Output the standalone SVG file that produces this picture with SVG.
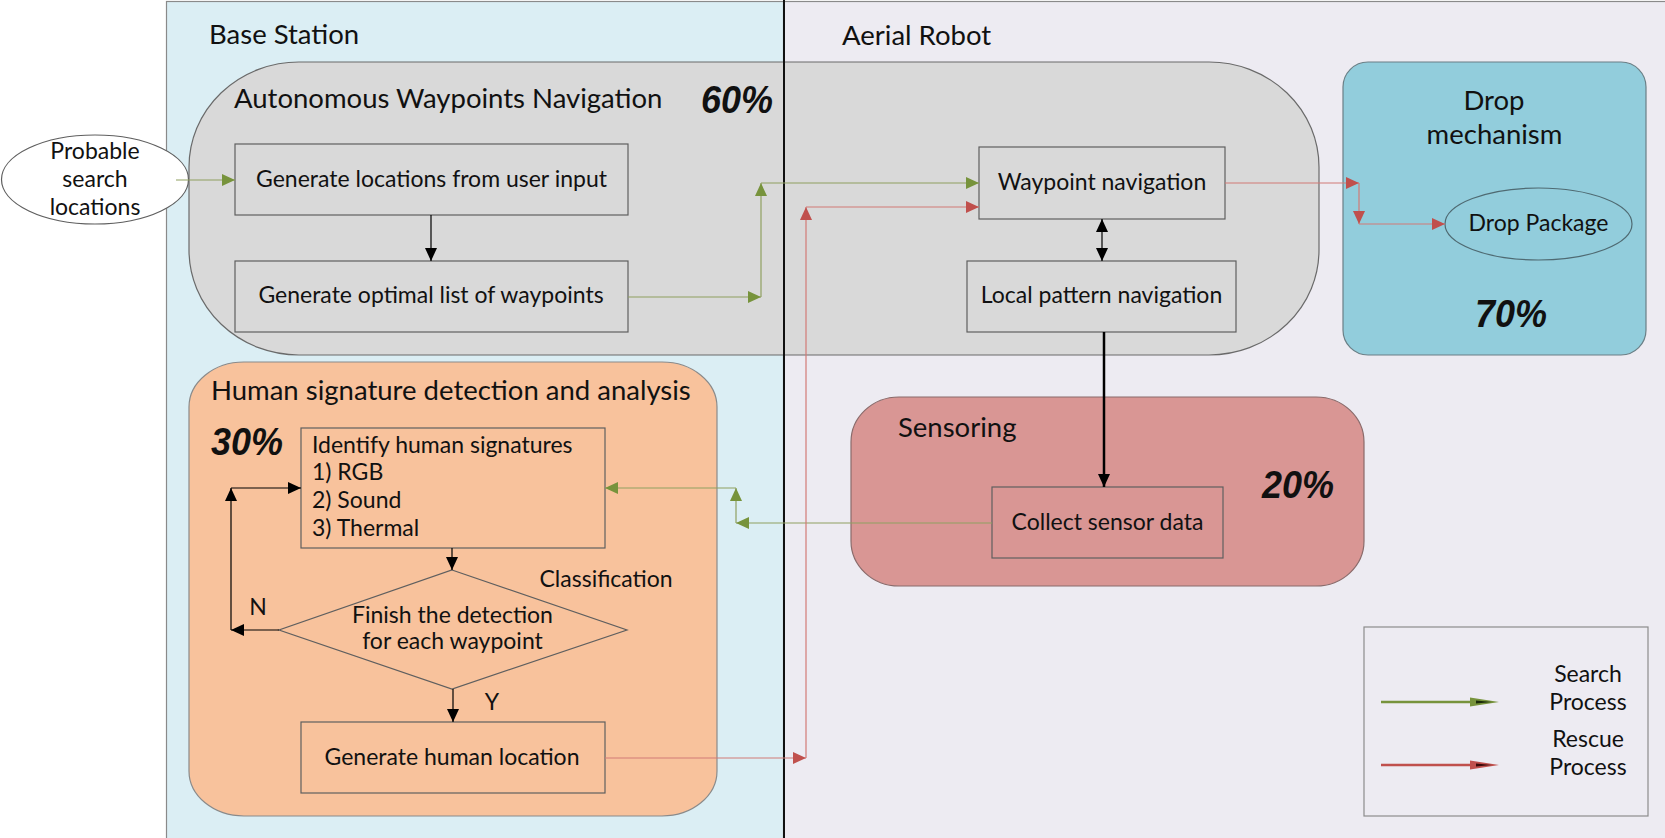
<svg xmlns="http://www.w3.org/2000/svg" width="1665" height="838" viewBox="0 0 1665 838">
<defs>
<style>
text{font-family:Lato,"Open Sans","Liberation Sans",sans-serif;fill:#111;}
.t{font-size:27.5px;}
.b{font-size:23px;}
.m{text-anchor:middle;}
.pct{font-family:"Liberation Sans",Arial,sans-serif;font-weight:bold;font-style:italic;font-size:38px;}
.box{fill:none;stroke:#5f5f5f;stroke-width:1.2;}
.k{stroke:#000;stroke-width:1.2;fill:none;marker-end:url(#ak);}
.kt{stroke:#000;stroke-width:2.5;fill:none;marker-end:url(#ak);}
.g{stroke:#8fa060;stroke-width:1.2;fill:none;marker-end:url(#ag);}
.r{stroke:#d27a76;stroke-width:1.2;fill:none;marker-end:url(#ar);}
</style>
<marker id="ak" markerUnits="userSpaceOnUse" markerWidth="13" markerHeight="12" refX="13" refY="6" orient="auto"><path d="M0,0 L13,6 L0,12 z" fill="#000"/></marker>
<marker id="aks" markerUnits="userSpaceOnUse" markerWidth="13" markerHeight="12" refX="13" refY="6" orient="auto-start-reverse"><path d="M0,0 L13,6 L0,12 z" fill="#000"/></marker>
<marker id="ag" markerUnits="userSpaceOnUse" markerWidth="13" markerHeight="12" refX="13" refY="6" orient="auto"><path d="M0,0 L13,6 L0,12 z" fill="#77933C"/></marker>
<marker id="ar" markerUnits="userSpaceOnUse" markerWidth="13" markerHeight="12" refX="13" refY="6" orient="auto"><path d="M0,0 L13,6 L0,12 z" fill="#C0504D"/></marker>
</defs>
<rect x="0" y="0" width="1665" height="838" fill="#ffffff"/>
<g id="panel-base">
<rect x="166.5" y="1.5" width="617" height="840" fill="#DBEEF4" stroke="#8a8a8a" stroke-width="1.2"/>
<text class="t" x="209" y="44">Base Station</text>
</g>
<g id="panel-aerial">
<rect x="784" y="1.5" width="885" height="840" fill="#EDEBF2" stroke="#8a8a8a" stroke-width="1.2"/>
<text class="t" x="842" y="45">Aerial Robot</text>
</g>
<g id="nav-group">
<rect x="189" y="62" width="1130" height="293" rx="110" ry="105" fill="#D9D9D9" stroke="#6a6a6a" stroke-width="1.2"/>
<text class="t" x="234" y="108">Autonomous Waypoints Navigation</text>
<text class="pct" x="701" y="113" textLength="72" lengthAdjust="spacingAndGlyphs">60%</text>
</g>
<g id="human-group">
<rect x="189" y="362" width="528" height="454" rx="55" ry="45" fill="#F8C29C" stroke="#8a8a8a" stroke-width="1.2"/>
<text class="t" x="211" y="400">Human signature detection and analysis</text>
<text class="pct" x="211" y="455" textLength="72" lengthAdjust="spacingAndGlyphs">30%</text>
</g>
<g id="sensoring-group">
<rect x="851" y="397" width="513" height="189" rx="48" ry="45" fill="#D99694" stroke="#8a6a6a" stroke-width="1.2"/>
<text class="t" x="898" y="437">Sensoring</text>
<text class="pct" x="1262" y="498" textLength="72" lengthAdjust="spacingAndGlyphs">20%</text>
</g>
<g id="drop-group">
<rect x="1343" y="62" width="303" height="293" rx="25" ry="25" fill="#92CDDC" stroke="#6a7f86" stroke-width="1.2"/>
<text class="t m" x="1494" y="110">Drop</text>
<text class="t m" x="1494.5" y="144">mechanism</text>
<text class="pct" x="1475" y="327" textLength="72" lengthAdjust="spacingAndGlyphs">70%</text>
</g>
<g id="divider">
<line x1="784" y1="0" x2="784" y2="838" stroke="#111" stroke-width="2"/>
</g>
<g id="probable">
<ellipse cx="95" cy="179.5" rx="93.5" ry="44.5" fill="#ffffff" stroke="#5f5f5f" stroke-width="1.2"/>
<text class="b m" x="95" y="159">Probable</text>
<text class="b m" x="95" y="187">search</text>
<text class="b m" x="95" y="215">locations</text>
</g>
<g id="gen-locations">
<rect class="box" x="235" y="144" width="393" height="71"/>
<text class="b m" x="431.5" y="187">Generate locations from user input</text>
</g>
<g id="gen-waypoints">
<rect class="box" x="235" y="261" width="393" height="71"/>
<text class="b m" x="431" y="303">Generate optimal list of waypoints</text>
</g>
<g id="waypoint-nav">
<rect class="box" x="979" y="147" width="246" height="72"/>
<text class="b m" x="1102" y="190">Waypoint navigation</text>
</g>
<g id="local-nav">
<rect class="box" x="967" y="261" width="269" height="71"/>
<text class="b m" x="1101.5" y="303">Local pattern navigation</text>
</g>
<g id="drop-package">
<ellipse cx="1538.5" cy="224" rx="93.5" ry="36" fill="none" stroke="#4f6a72" stroke-width="1.2"/>
<text class="b m" x="1538.5" y="231">Drop Package</text>
</g>
<g id="identify">
<rect class="box" x="301" y="428" width="304" height="120"/>
<text class="b" x="312" y="453">Identify human signatures</text>
<text class="b" x="312" y="480">1) RGB</text>
<text class="b" x="312" y="508">2) Sound</text>
<text class="b" x="312" y="536">3) Thermal</text>
</g>
<g id="classification">
<polygon class="box" points="452,570 627,630 452,689 279,630"/>
<text class="b m" x="452.5" y="623">Finish the detection</text>
<text class="b m" x="452.5" y="649">for each waypoint</text>
<text class="b" x="539.5" y="587">Classification</text>
</g>
<g id="gen-human">
<rect class="box" x="301" y="722" width="304" height="71"/>
<text class="b m" x="452" y="765">Generate human location</text>
</g>
<g id="collect">
<rect class="box" x="992" y="487" width="231" height="71"/>
<text class="b m" x="1107.5" y="530">Collect sensor data</text>
</g>
<g id="legend">
<rect x="1364" y="627" width="284" height="189" fill="none" stroke="#8c8c8c" stroke-width="1.2"/>
<line x1="1381" y1="702" x2="1476" y2="702" stroke="#77933C" stroke-width="2.5"/>
<polygon points="1470,697.5 1499,702 1470,706.5" fill="#77933C"/>
<polygon points="1476,700.5 1492,702 1476,703.5" fill="#1a2a0a"/>
<line x1="1381" y1="765" x2="1476" y2="765" stroke="#C0504D" stroke-width="2.5"/>
<polygon points="1470,760.5 1499,765 1470,769.5" fill="#C0504D"/>
<polygon points="1476,763.5 1492,765 1476,766.5" fill="#3a0a0a"/>
<text class="b m" x="1588" y="682">Search</text>
<text class="b m" x="1588" y="710">Process</text>
<text class="b m" x="1588" y="747">Rescue</text>
<text class="b m" x="1588" y="775">Process</text>
</g>
<g id="connectors">
<line class="k" x1="431" y1="215" x2="431" y2="261"/>
<line x1="1102" y1="219" x2="1102" y2="261" stroke="#000" stroke-width="1.2" marker-start="url(#aks)" marker-end="url(#ak)"/>
<line class="kt" x1="1104" y1="332" x2="1104" y2="487"/>
<line class="k" x1="452" y1="548" x2="452" y2="570"/>
<line class="k" x1="453" y1="689" x2="453" y2="722"/>
<text class="b m" x="492" y="710">Y</text>
<line class="k" x1="279" y1="630" x2="231" y2="630"/>
<line class="k" x1="231" y1="630" x2="231" y2="488"/>
<line class="k" x1="231" y1="488" x2="301" y2="488"/>
<text class="b m" x="258" y="615">N</text>
<line class="g" x1="176" y1="180" x2="235" y2="180"/>
<line class="g" x1="628" y1="297" x2="761" y2="297"/>
<line class="g" x1="761" y1="297" x2="761" y2="183"/>
<line class="g" x1="761" y1="183" x2="979" y2="183"/>
<line class="g" x1="992" y1="523" x2="736" y2="523"/>
<line class="g" x1="736" y1="523" x2="736" y2="488"/>
<line class="g" x1="736" y1="488" x2="605" y2="488"/>
<line class="r" x1="605" y1="758" x2="806" y2="758"/>
<line class="r" x1="806" y1="758" x2="806" y2="207"/>
<line class="r" x1="806" y1="207" x2="979" y2="207"/>
<line class="r" x1="1225" y1="183" x2="1359" y2="183"/>
<line class="r" x1="1359" y1="183" x2="1359" y2="224"/>
<line class="r" x1="1359" y1="224" x2="1445" y2="224"/>
</g>
</svg>
